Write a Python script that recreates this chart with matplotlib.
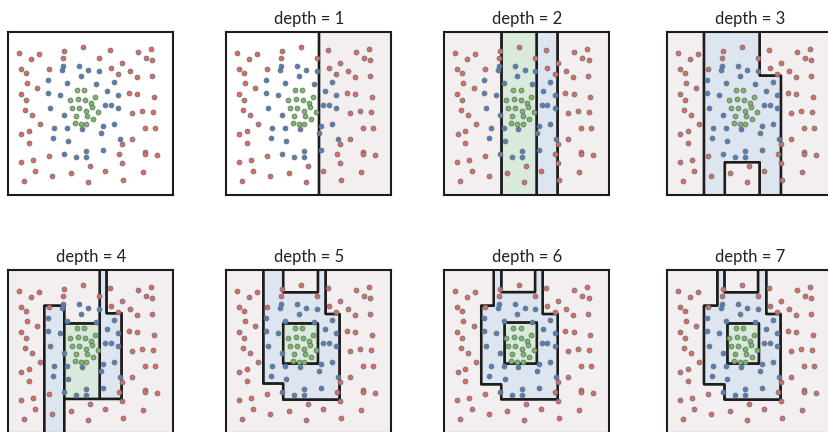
import numpy as np
import matplotlib
matplotlib.use("Agg")
import matplotlib.pyplot as plt
from matplotlib.colors import ListedColormap

# ---------------- data (panel coordinates 0..100) ----------------
red_x = [6.5, 13.7, 18.4, 33.7, 33.3, 45.3, 61.6, 54.7, 78.6, 86.3, 83.6, 87.3,
         7.7, 10.9, 24.6, 68.7, 62.2, 66.7, 73.9, 77.8, 86.9, 11.1, 17.6, 7.5,
         10.7, 10.1, 14.3, 73.3, 78.2, 88.1, 75.0, 81.0, 87.7, 19.2, 7.9, 12.3,
         12.3, 82.8, 88.9, 68.7, 74.7, 67.2, 82.8, 82.8, 90.1, 24.8, 7.7, 14.7,
         68.7, 49.5, 58.4, 16.4, 38.0, 26.7, 81.6, 9.5, 48.3, 69.5]
red_y = [87.1, 83.5, 86.5, 88.4, 84.3, 91.0, 88.8, 84.3, 88.0, 89.8, 83.9, 82.7,
         77.1, 75.1, 77.1, 81.2, 78.0, 74.3, 75.9, 72.2, 73.1, 68.6, 65.9, 62.2,
         58.0, 52.4, 49.0, 62.7, 61.8, 60.4, 50.6, 51.6, 51.2, 43.5, 37.3, 39.2,
         31.8, 26.3, 41.2, 31.4, 34.1, 24.9, 24.9, 41.2, 24.5, 24.1, 20.4, 21.6,
         19.8, 17.6, 14.9, 14.7, 13.7, 11.8, 14.1, 8.6, 8.0, 9.2]
blue_x = [33.3, 32.3, 42.6, 48.5, 54.7, 44.0, 24.0, 35.8, 53.3, 64.2, 24.0, 31.1,
          60.0, 66.7, 58.8, 62.4, 66.7, 25.1, 33.9, 27.9, 35.8, 44.4, 57.2, 64.2,
          55.9, 27.1, 36.4, 67.5, 57.2, 33.9, 41.0, 46.9, 46.9]
blue_y = [79.2, 76.7, 79.4, 76.7, 75.9, 73.1, 70.8, 68.6, 68.2, 69.4, 62.7, 61.4,
          63.9, 61.6, 55.3, 55.3, 53.1, 53.1, 49.0, 41.2, 41.2, 40.2, 42.2, 43.3,
          38.0, 35.1, 33.3, 34.1, 27.6, 24.9, 23.1, 26.7, 23.1]
green_x = [41.8, 46.1, 52.5, 37.4, 42.0, 46.5, 50.3, 38.4, 42.8, 50.9, 47.1, 54.3,
           41.0, 47.5, 51.3, 40.2, 44.0, 47.3]
green_y = [64.5, 64.3, 60.2, 58.2, 58.6, 58.0, 56.7, 53.5, 53.5, 53.7, 51.8, 51.2,
           48.6, 48.6, 46.5, 44.1, 43.5, 43.7]

# class ids: 0 red, 1 blue, 2 green, 3 unfilled
# leaf regions per depth: (class, x0, x1, y0, y1), painted in order
regions = {
    0: [],
    1: [(3, 0, 56.2, 0, 100), (0, 56.2, 100, 0, 100)],
    2: [(0, 0, 100, 0, 100), (2, 34.6, 55.9, 0, 100), (1, 55.9, 68.6, 0, 100)],
    3: [(0, 0, 100, 0, 100), (1, 22.2, 56.0, 20.1, 100), (1, 22.2, 34.9, 0, 20.1),
        (1, 56.0, 68.9, 0, 73.2)],
    4: [(0, 0, 100, 0, 100), (1, 21.8, 33.9, -5, 78.1), (2, 33.9, 55.5, 20.9, 67.2),
        (1, 55.5, 68.7, 20.9, 73.4), (1, 55.5, 59.6, 67.2, 100)],
    5: [(0, 0, 100, 0, 100), (1, 22.4, 60.2, 30.3, 100), (1, 34.5, 68.7, 20.5, 73.0),
        (0, 34.5, 55.6, 86.3, 100), (2, 34.5, 55.6, 42.6, 67.2)],
    6: [(0, 0, 100, 0, 100), (1, 22.2, 59.6, 29.9, 78.1), (1, 29.9, 59.6, 78.1, 100),
        (1, 34.3, 68.7, 20.7, 73.0), (0, 34.5, 54.9, 86.5, 100),
        (2, 36.4, 56.0, 42.6, 67.8)],
    7: [(0, 0, 100, 0, 100), (1, 22.2, 60.0, 29.9, 78.1), (1, 30.3, 60.0, 78.1, 100),
        (1, 34.7, 68.7, 20.5, 73.0), (0, 34.7, 55.0, 86.3, 100),
        (2, 36.4, 55.6, 42.6, 67.2)],
}

fill_colors = ["#f3eef0", "#dde5f0", "#d9eadc", "#ffffff"]
point_colors = {"red": "#e26a60", "blue": "#4c80c6", "green": "#6fc15d"}

# ---------------- layout ----------------
W, H = 829, 432
fig = plt.figure(figsize=(W / 100, H / 100), dpi=100)
lefts = [8.3, 226.3, 444.5, 667.3]
tops = [32.0, 270.0]
pw, ph = 165.0, 163.0

N = 900
g = (np.arange(N) + 0.5) * 100.0 / N
xx, yy = np.meshgrid(g, g)

for k in range(8):
    r, c = divmod(k, 4)
    ax = fig.add_axes([lefts[c] / W, (H - tops[r] - ph) / H, pw / W, ph / H])
    ax.set_xlim(0, 100)
    ax.set_ylim(0, 100)
    regs = regions[k]
    if regs:
        lab = np.full((N, N), 3)
        for cl, x0, x1, y0, y1 in regs:
            lab[(xx >= x0) & (xx < x1) & (yy >= y0) & (yy < y1)] = cl
        ax.imshow(lab, extent=[0, 100, 0, 100], origin="lower",
                  cmap=ListedColormap(fill_colors), vmin=-0.5, vmax=3.5,
                  interpolation="nearest", aspect="auto", zorder=0)
        for cl in np.unique(lab):
            ax.contour(xx, yy, (lab == cl).astype(float), levels=[0.5],
                       colors="#1c1c1c", linewidths=1.7, zorder=1)
        ax.set_title(f"depth = {k}", fontsize=12, family=["Lato", "DejaVu Sans"],
                     pad=6, color="#222222")
    for xs, ys, col in [(red_x, red_y, "red"), (blue_x, blue_y, "blue"),
                        (green_x, green_y, "green")]:
        ax.scatter(xs, ys, s=12, c=point_colors[col], edgecolors="#707070",
                   linewidths=0.6, zorder=3)
    ax.set_xticks([])
    ax.set_yticks([])
    for sp in ax.spines.values():
        sp.set_linewidth(1.5)
        sp.set_color("#1c1c1c")

fig.savefig("out.png", dpi=100)
